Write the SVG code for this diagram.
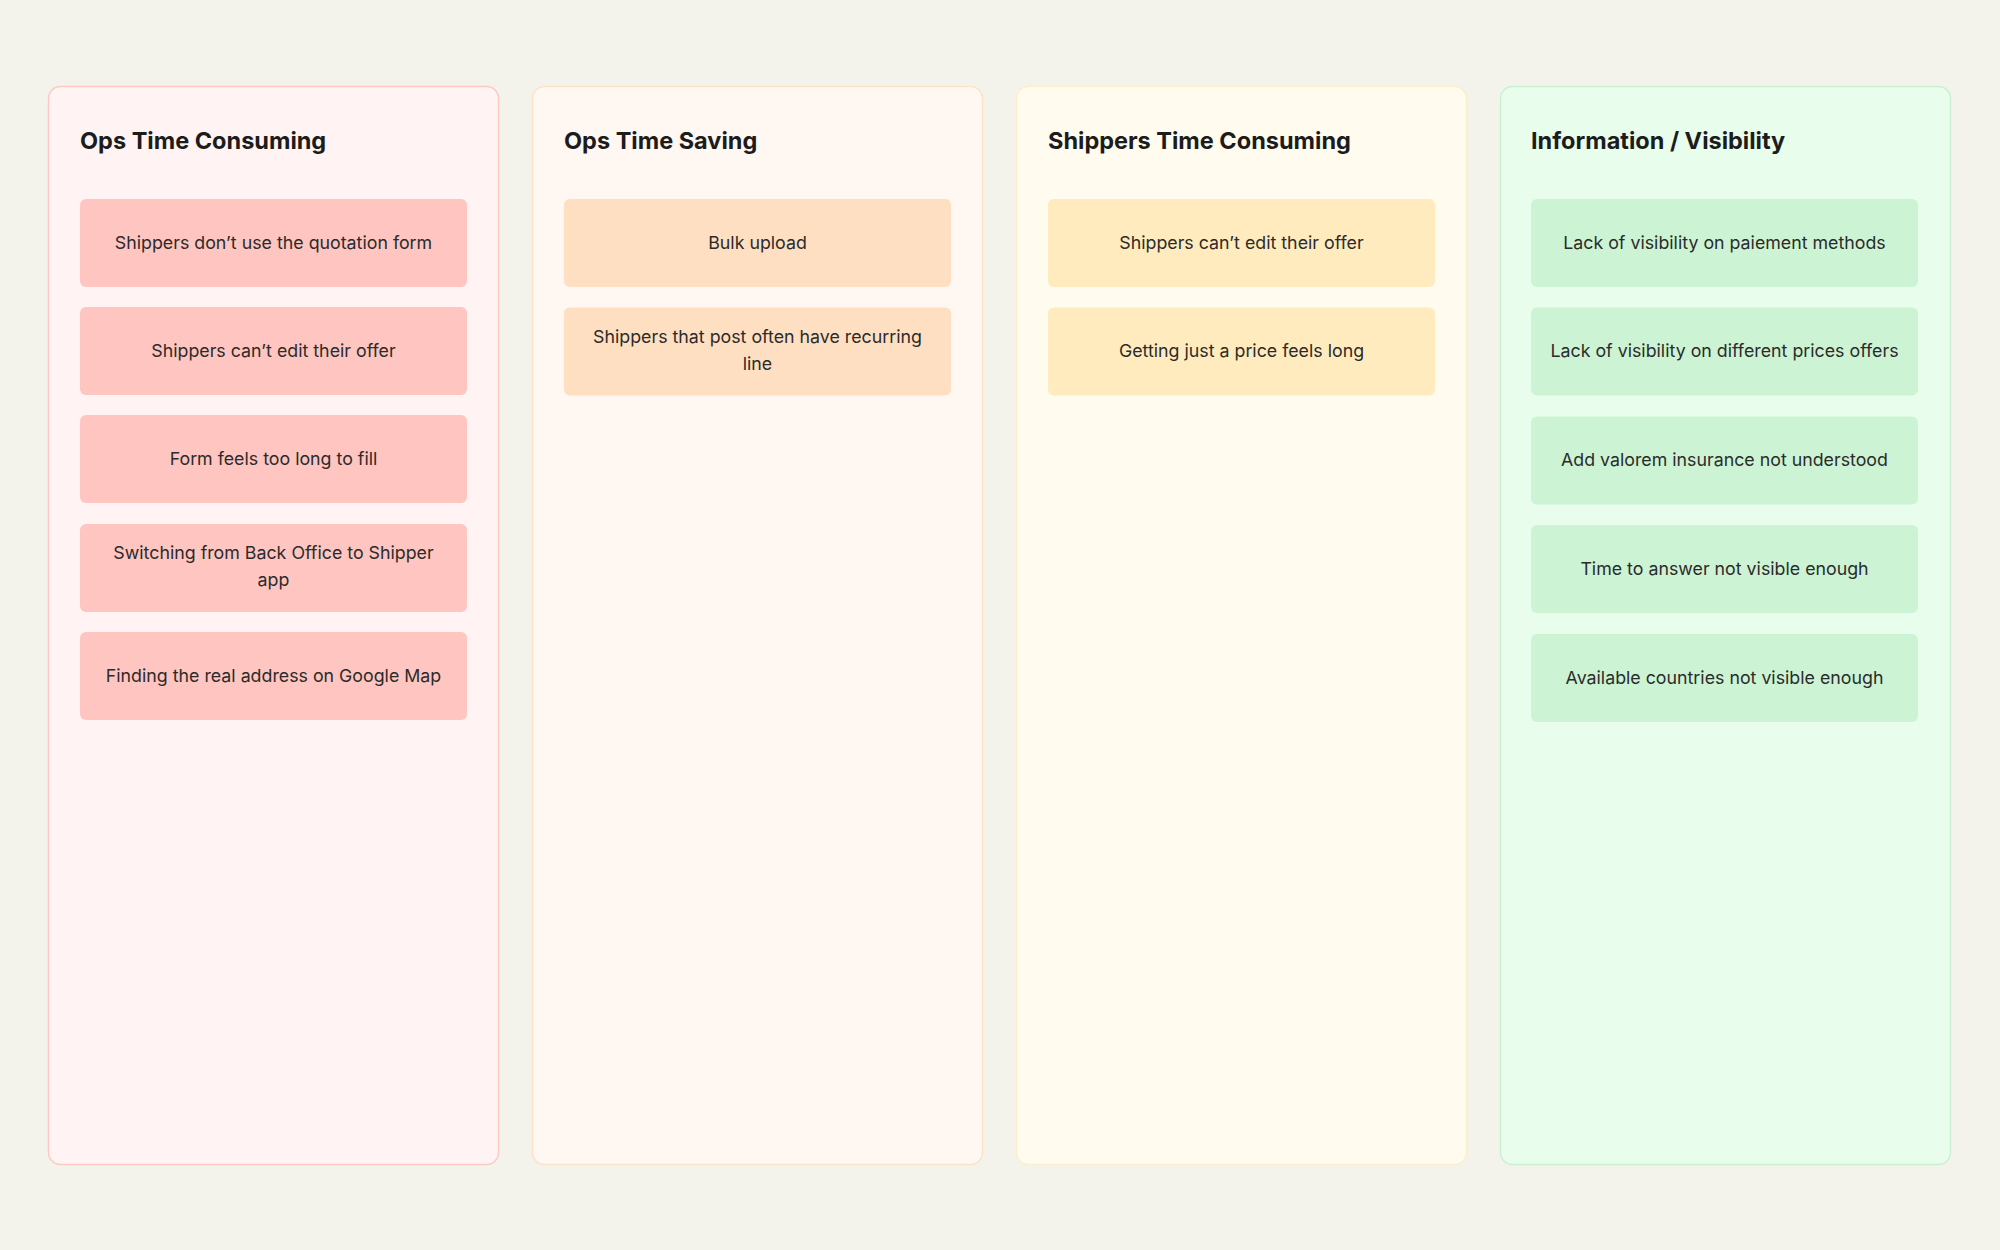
<svg xmlns="http://www.w3.org/2000/svg" width="2000" height="1250" viewBox="0 0 2000 1250">
<style>
.bg{fill:#f3f3ec}
.col{stroke-width:1.5}
.title{font-family:Inter,"Liberation Sans",sans-serif;font-weight:700;font-size:23.5px;fill:#1c1c1c}
.txt{font-family:Inter,"Liberation Sans",sans-serif;font-size:17.8px;fill:#2b2b2b;text-anchor:middle}
.c1{fill:#fff4f3;stroke:#fcc9c4}
.c2{fill:#fff7f1;stroke:#fde2c8}
.c3{fill:#fffbef;stroke:#fcefc9}
.c4{fill:#e8fdeb;stroke:#c9f1d1}
.k1{fill:#ffc5c0}
.k2{fill:#ffdfc1}
.k3{fill:#ffebbe}
.k4{fill:#ccf4d4}
</style>
<rect class="bg" x="0" y="0" width="2000" height="1250"/>

<g id="col-ops-time-consuming">
<rect class="col c1" x="48.5" y="86.5" width="450" height="1078" rx="12"/>
<text class="title" x="80" y="149">Ops Time Consuming</text>
<g id="n1-1"><rect class="k1" x="80" y="199" width="387" height="88" rx="6"/><text class="txt" x="273.5" y="248.5">Shippers don’t use the quotation form</text></g>
<g id="n1-2"><rect class="k1" x="80" y="307" width="387" height="88" rx="6"/><text class="txt" x="273.5" y="356.5">Shippers can’t edit their offer</text></g>
<g id="n1-3"><rect class="k1" x="80" y="415" width="387" height="88" rx="6"/><text class="txt" x="273.5" y="464.5">Form feels too long to fill</text></g>
<g id="n1-4"><rect class="k1" x="80" y="524" width="387" height="88" rx="6"/><text class="txt" x="273.5" y="558.5">Switching from Back Office to Shipper</text><text class="txt" x="273.5" y="585.5">app</text></g>
<g id="n1-5"><rect class="k1" x="80" y="632" width="387" height="88" rx="6"/><text class="txt" x="273.5" y="681.5">Finding the real address on Google Map</text></g>
</g>

<g id="col-ops-time-saving">
<rect class="col c2" x="532.5" y="86.5" width="450" height="1078" rx="12"/>
<text class="title" x="564" y="149">Ops Time Saving</text>
<g id="n2-1"><rect class="k2" x="564" y="199" width="387" height="88" rx="6"/><text class="txt" x="757.5" y="248.5">Bulk upload</text></g>
<g id="n2-2"><rect class="k2" x="564" y="307.5" width="387" height="88" rx="6"/><text class="txt" x="757.5" y="342.5">Shippers that post often have recurring</text><text class="txt" x="757.5" y="369.5">line</text></g>
</g>

<g id="col-shippers-time-consuming">
<rect class="col c3" x="1016.5" y="86.5" width="450" height="1078" rx="12"/>
<text class="title" x="1048" y="149">Shippers Time Consuming</text>
<g id="n3-1"><rect class="k3" x="1048" y="199" width="387" height="88" rx="6"/><text class="txt" x="1241.5" y="248.5">Shippers can’t edit their offer</text></g>
<g id="n3-2"><rect class="k3" x="1048" y="307.5" width="387" height="88" rx="6"/><text class="txt" x="1241.5" y="357">Getting just a price feels long</text></g>
</g>

<g id="col-information-visibility">
<rect class="col c4" x="1500.5" y="86.5" width="450" height="1078" rx="12"/>
<text class="title" x="1531" y="149">Information / Visibility</text>
<g id="n4-1"><rect class="k4" x="1531" y="199" width="387" height="88" rx="6"/><text class="txt" x="1724.5" y="248.5">Lack of visibility on paiement methods</text></g>
<g id="n4-2"><rect class="k4" x="1531" y="307.5" width="387" height="88" rx="6"/><text class="txt" x="1724.5" y="357">Lack of visibility on different prices offers</text></g>
<g id="n4-3"><rect class="k4" x="1531" y="416.5" width="387" height="88" rx="6"/><text class="txt" x="1724.5" y="466">Add valorem insurance not understood</text></g>
<g id="n4-4"><rect class="k4" x="1531" y="525" width="387" height="88" rx="6"/><text class="txt" x="1724.5" y="574.5">Time to answer not visible enough</text></g>
<g id="n4-5"><rect class="k4" x="1531" y="634" width="387" height="88" rx="6"/><text class="txt" x="1724.5" y="683.5">Available countries not visible enough</text></g>
</g>

<g id="connectors"></g>
</svg>
